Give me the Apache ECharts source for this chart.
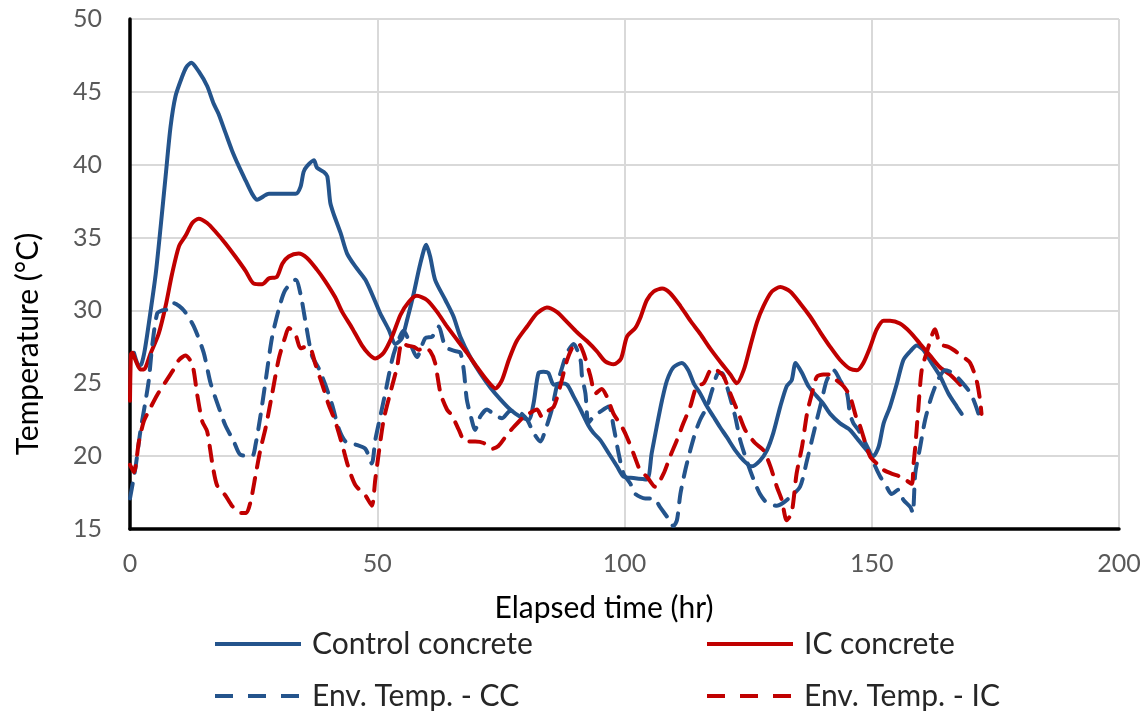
<!DOCTYPE html>
<html>
<head>
<meta charset="utf-8">
<script src="https://cdn.jsdelivr.net/npm/echarts@6/dist/echarts.min.js"></script>
<style>
  html, body { margin: 0; padding: 0; background: #fff; }
  #chart { width: 1148px; height: 712px; }
</style>
</head>
<body>
<div id="chart"></div>
<script>
// Elapsed time (hr) and temperature (°C) for each sensor
const ccTime = [0.8, 1.8, 2.3, 3.0, 4.1, 5.2, 6.2, 7.2, 8.2, 9.2, 10.5, 11.4, 12.4, 13.9, 15.6, 16.9, 17.9, 19.3,
  20.6, 22.0, 23.4, 24.7, 25.7, 28.1, 33.5, 34.5, 35.1, 35.8, 37.2, 37.8, 39.2, 39.9, 40.5, 41.2, 42.6, 43.9, 45.6, 47.6,
  49.6, 50.6, 52.3, 53.7, 55.0, 56.0, 57.4, 58.7, 59.9, 60.7, 61.7, 63.8, 65.4, 66.8, 68.8, 70.8, 72.9, 74.9, 76.9, 78.9,
  80.6, 81.6, 82.6, 83.6, 84.6, 85.7, 87.0, 88.4, 89.7, 91.1, 92.7, 93.7, 95.1, 96.8, 98.5, 99.8, 101.8, 104.5, 105.5, 106.5,
  107.6, 108.6, 109.9, 111.6, 112.9, 114.0, 115.3, 116.7, 118.0, 119.3, 120.7, 122.4, 124.1, 125.7, 127.4, 128.8, 130.1, 131.5, 132.8, 133.8,
  134.6, 135.9, 137.2, 138.9, 140.2, 141.6, 143.6, 145.6, 147.3, 149.0, 150.3, 151.4, 152.4, 153.7, 155.1, 156.4, 157.8, 159.1, 160.4, 162.1,
  163.8, 165.5, 167.2, 168.2];
const ccTemp = [27.1, 26.2, 26.3, 27.3, 29.8, 32.5, 35.75, 39.2, 42.6, 44.7, 46.0, 46.7, 47.0, 46.4, 45.4, 44.2, 43.5, 42.2,
  41.0, 39.9, 38.9, 38.0, 37.6, 38.0, 38.0, 38.5, 39.5, 39.9, 40.3, 39.8, 39.5, 39.2, 37.4, 36.6, 35.3, 33.9, 33.0, 32.1,
  30.6, 29.8, 28.7, 27.7, 28.1, 29.3, 31.2, 33.2, 34.5, 33.7, 32.1, 30.7, 29.6, 28.2, 26.8, 25.7, 24.7, 23.9, 23.2, 22.7,
  22.5, 23.6, 25.7, 25.8, 25.7, 24.9, 25.0, 24.9, 24.1, 23.2, 22.1, 21.6, 21.1, 20.2, 19.3, 18.6, 18.5, 18.4, 20.2, 22.0,
  23.85, 25.2, 26.1, 26.4, 25.9, 25.0, 24.3, 23.4, 22.7, 22.0, 21.3, 20.4, 19.7, 19.3, 19.7, 20.4, 21.6, 23.4, 24.8, 25.2,
  26.4, 25.7, 24.8, 24.1, 23.6, 22.9, 22.25, 21.8, 21.1, 20.4, 20.0, 20.65, 22.25, 23.4, 25.0, 26.6, 27.2, 27.6, 27.3, 26.4,
  25.5, 24.3, 23.4, 22.9];

const icTime = [0, 0.2, 0.5, 1.1, 2.1, 2.8, 4.1, 5.8, 7.2, 8.5, 9.9, 11.2, 12.6, 13.9, 15.6, 17.3, 19.3, 21.3, 23.4, 25.0,
  26.7, 28.1, 29.7, 30.8, 32.1, 34.1, 35.8, 37.8, 39.5, 41.5, 42.9, 44.9, 46.9, 48.3, 49.6, 51.3, 53.0, 54.7, 56.4, 58.0,
  60.1, 62.1, 64.1, 66.1, 68.1, 70.2, 72.2, 73.9, 75.2, 76.6, 78.2, 80.3, 82.3, 84.3, 86.3, 88.4, 90.4, 92.4, 94.4, 96.1,
  97.8, 99.3, 100.5, 102.2, 103.2, 104.5, 105.9, 107.6, 109.2, 111.3, 113.3, 115.3, 117.3, 119.3, 121.4, 122.7, 124.1, 125.4, 126.8, 128.1,
  129.8, 131.5, 133.5, 135.5, 137.5, 139.6, 141.6, 143.6, 145.6, 147.0, 148.3, 149.7, 151.0, 152.4, 153.7, 155.7, 157.8, 159.8, 161.8, 163.8,
  165.8, 167.9];
const icTemp = [23.8, 27.0, 27.1, 26.6, 25.95, 25.95, 27.0, 28.4, 30.3, 32.5, 34.4, 35.1, 36.0, 36.3, 36.0, 35.4, 34.6, 33.7, 32.7, 31.85,
  31.8, 32.2, 32.3, 33.2, 33.7, 33.9, 33.6, 32.8, 32.0, 30.9, 29.9, 28.8, 27.6, 27.0, 26.7, 27.1, 28.2, 29.7, 30.6, 31.0,
  30.7, 29.9, 28.9, 28.0, 27.1, 26.1, 25.2, 24.65, 25.2, 26.6, 27.9, 28.9, 29.8, 30.2, 29.9, 29.2, 28.5, 27.9, 27.2, 26.5,
  26.3, 26.7, 28.2, 28.8, 29.5, 30.7, 31.3, 31.5, 31.2, 30.3, 29.3, 28.4, 27.4, 26.5, 25.6, 25.0, 25.9, 27.5, 29.2, 30.3,
  31.3, 31.6, 31.3, 30.5, 29.6, 28.5, 27.5, 26.6, 26.0, 25.9, 26.4, 27.5, 28.7, 29.3, 29.3, 29.1, 28.5, 27.7, 26.9, 26.1,
  25.6, 24.9];

const envCcTime = [0, 1.1, 2.1, 3.1, 3.8, 4.5, 5.5, 6.5, 7.85, 8.9, 10.9, 12.9, 14.9, 16.3, 18.0, 19.3, 21.0, 22.3, 24.7,
  25.4, 26.4, 27.4, 28.7, 30.1, 31.4, 33.5, 34.5, 35.5, 36.8, 38.2, 39.5, 40.9, 42.2, 43.6, 45.6, 47.6, 48.9, 49.6, 50.6,
  51.6, 53.0, 54.0, 55.3, 56.7, 58.0, 59.7, 61.1, 62.4, 63.8, 65.8, 66.8, 67.5, 68.1, 68.8, 69.8, 70.8, 72.2, 73.5, 75.2,
  76.9, 78.6, 80.3, 81.6, 83.0, 84.0, 85.3, 86.3, 87.4, 88.4, 89.7, 91.1, 91.4, 92.1, 92.7, 93.7, 95.1, 96.8, 97.8, 98.8,
  99.8, 101.2, 102.2, 104.2, 105.9, 107.2, 108.9, 109.9, 110.6, 111.3, 112.3, 113.3, 114.3, 115.3, 116.7, 117.7, 119.0, 119.7, 120.7, 121.7,
  122.4, 123.4, 124.7, 126.1, 127.4, 128.8, 130.8, 132.1, 133.5, 135.5, 136.9, 137.9, 138.9, 139.9, 140.9, 142.3, 143.6, 145.0, 145.6, 146.3,
  147.3, 148.7, 149.7, 150.7, 151.7, 153.0, 154.0, 155.4, 156.4, 157.8, 158.3, 158.8, 159.8, 160.8, 162.1, 163.5, 164.8, 166.5, 167.9, 169.6,
  170.6, 171.6, 172.2];
const envCcTemp = [17.1, 19.2, 21.7, 23.7, 25.2, 27.6, 29.8, 30.0, 30.1, 30.5, 30.0, 28.9, 27.1, 25.0, 23.3, 22.1, 21.0, 20.1, 20.0,
  20.8, 22.8, 25.1, 28.1, 30.1, 31.4, 32.1, 31.1, 29.2, 26.9, 26.0, 24.9, 23.5, 21.9, 21.0, 20.8, 20.5, 19.5, 21.1, 22.7,
  24.3, 26.6, 27.7, 28.6, 27.7, 26.8, 28.1, 28.2, 28.9, 27.5, 27.2, 27.1, 25.9, 23.9, 22.9, 21.8, 22.7, 23.2, 22.9, 22.6,
  23.1, 23.05, 22.5, 21.6, 21.0, 21.8, 23.2, 24.8, 26.1, 27.1, 27.7, 26.6, 25.5, 24.3, 22.3, 22.7, 23.05, 23.4, 22.0, 20.2,
  18.8, 18.1, 17.4, 17.1, 17.1, 16.5, 15.7, 15.2, 15.6, 17.4, 19.05, 20.4, 21.6, 22.5, 23.4, 24.5, 25.7, 25.7, 24.8, 23.6,
  22.7, 21.1, 19.7, 18.4, 17.4, 16.8, 16.6, 16.8, 17.2, 17.9, 19.7, 21.1, 22.5, 23.85, 25.2, 25.9, 25.2, 24.3, 22.9, 22.25,
  21.8, 20.9, 20.2, 19.3, 18.6, 17.9, 17.4, 17.7, 17.0, 16.5, 16.1, 18.8, 20.65, 22.5, 24.1, 25.3, 25.9, 25.7, 25.2, 24.5,
  23.85, 22.9, 22.25];

const envIcTime = [0, 0.8, 1.8, 2.8, 3.8, 5.5, 7.2, 8.9, 9.9, 11.2, 12.6, 13.6, 14.6, 15.6, 16.6, 17.6, 19.3, 20.6, 22.3, 23.5,
  24.4, 25.4, 26.4, 27.4, 28.7, 30.1, 31.4, 32.1, 33.5, 34.5, 35.5, 36.5, 37.5, 38.9, 40.2, 41.5, 42.9, 44.2, 45.6, 47.6,
  48.9, 49.6, 50.3, 51.3, 52.6, 54.0, 55.0, 56.0, 57.4, 58.4, 59.5, 60.7, 61.7, 62.8, 64.1, 65.1, 66.5, 67.8, 69.8, 71.5,
  73.2, 74.5, 76.2, 77.6, 79.3, 80.6, 82.3, 83.3, 84.3, 85.7, 87.0, 88.4, 89.7, 90.7, 91.7, 93.1, 94.1, 95.4, 96.4, 97.8,
  99.5, 100.5, 101.8, 103.2, 104.5, 106.2, 107.9, 109.2, 110.6, 111.9, 113.3, 114.6, 116.0, 117.7, 118.7, 120.0, 121.4, 123.1, 124.4, 126.4,
  128.1, 129.5, 130.8, 131.8, 132.8, 133.8, 134.8, 135.9, 136.9, 137.9, 138.9, 140.2, 141.6, 142.9, 144.3, 145.6, 147.0, 147.6, 148.7, 149.7,
  151.0, 152.4, 154.0, 155.7, 156.7, 158.1, 158.4, 158.8, 159.4, 160.1, 161.1, 162.8, 163.8, 165.5, 166.5, 168.5, 169.9, 171.2, 171.9, 172.2];
const envIcTemp = [19.4, 18.9, 21.0, 22.4, 23.1, 24.2, 25.1, 26.0, 26.6, 26.9, 26.3, 24.2, 22.4, 21.7, 19.6, 18.0, 17.3, 16.6, 16.1, 16.1,
  16.9, 18.7, 20.5, 21.9, 24.2, 26.7, 28.2, 28.8, 28.3, 27.4, 27.5, 27.4, 26.3, 24.9, 23.5, 22.4, 20.8, 19.2, 18.0, 17.3,
  16.6, 18.4, 20.2, 22.5, 24.3, 26.1, 27.8, 27.6, 27.5, 27.3, 27.5, 27.2, 26.4, 24.3, 23.2, 22.8, 21.8, 21.0, 21.0, 20.9,
  20.5, 20.7, 21.45, 22.0, 22.6, 22.9, 23.2, 22.7, 23.05, 23.4, 24.8, 26.6, 27.6, 27.7, 27.1, 25.5, 24.3, 24.6, 24.1, 22.9,
  22.0, 21.3, 20.2, 19.0, 18.6, 17.9, 18.8, 19.96, 21.1, 22.25, 23.4, 24.8, 25.0, 26.0, 25.9, 25.5, 24.3, 22.9, 21.8, 20.9,
  20.4, 19.3, 17.9, 17.0, 15.6, 16.1, 18.8, 20.65, 22.9, 24.3, 25.45, 25.6, 25.6, 25.2, 24.8, 24.1, 22.5, 22.1, 20.9, 19.96,
  19.5, 19.05, 18.8, 18.6, 18.4, 18.1, 19.3, 20.65, 23.2, 25.9, 27.1, 28.7, 27.7, 27.5, 27.3, 26.8, 26.4, 25.2, 23.85, 22.9];

const xTicks = { min: 0, max: 200, step: 50 };
const yTicks = { min: 15, max: 50, step: 5 };

const BLUE = '#24548c';
const RED = '#c00000';
const FONT = 'Lato';
const DASH = [15, 11];
const LEGEND_DASH = [18, 15];

const pairs = (xs, ys) => xs.map((x, i) => [x, ys[i]]);

function lineSeries(name, xs, ys, color, dashed) {
  return {
    name: name,
    type: 'line',
    data: pairs(xs, ys),
    showSymbol: false,
    symbol: 'none',
    smooth: 0.25,
    lineStyle: { color: color, width: 4, type: dashed ? DASH : 'solid', cap: 'round', join: 'round' },
    itemStyle: { color: color }
  };
}

function legendAt(name, left, top, color, dashed) {
  return {
    data: [name],
    left: left,
    top: top,
    padding: 0,
    itemWidth: 86,
    itemHeight: 14,
    selectedMode: false,
    itemStyle: { opacity: 0 },
    lineStyle: { color: color, width: 4, type: dashed ? LEGEND_DASH : 'solid', cap: 'butt' },
    textStyle: { fontFamily: FONT, fontSize: 30, color: '#262626', lineHeight: 34, padding: [0, 0, 0, 6] }
  };
}

const chart = echarts.init(document.getElementById('chart'), null, { renderer: 'canvas' });
chart.setOption({
  animation: false,
  backgroundColor: '#ffffff',
  grid: { left: 130, right: 29, top: 19, height: 510, containLabel: false },
  xAxis: {
    type: 'value',
    min: xTicks.min, max: xTicks.max, interval: xTicks.step,
    axisLine: { show: true, onZero: false, lineStyle: { color: '#000', width: 3.5 } },
    axisTick: { show: false },
    splitLine: { show: true, lineStyle: { color: '#d9d9d9', width: 2 } },
    axisLabel: { fontFamily: FONT, fontSize: 25, color: '#595959', margin: 22 }
  },
  yAxis: {
    type: 'value',
    min: yTicks.min, max: yTicks.max, interval: yTicks.step,
    axisLine: { show: true, onZero: false, lineStyle: { color: '#000', width: 3.5 } },
    axisTick: { show: false },
    splitLine: { show: true, lineStyle: { color: '#d9d9d9', width: 2 } },
    axisLabel: { fontFamily: FONT, fontSize: 25, color: '#595959', margin: 28 }
  },
  legend: [
    legendAt('Control concrete', 213, 627, BLUE, false),
    legendAt('IC concrete', 705, 627, RED, false),
    legendAt('Env. Temp. - CC', 213, 679, BLUE, true),
    legendAt('Env. Temp. - IC', 705, 679, RED, true)
  ],
  graphic: [
    {
      type: 'text',
      x: 604, y: 608,
      style: { text: 'Elapsed time (hr)', align: 'center', verticalAlign: 'middle', fontFamily: FONT, fontSize: 30, fill: '#000' }
    },
    {
      type: 'text',
      x: 28, y: 344,
      rotation: Math.PI / 2,
      style: { text: 'Temperature (°C)', align: 'center', verticalAlign: 'middle', fontFamily: FONT, fontSize: 30, fill: '#000' }
    }
  ],
  series: [
    lineSeries('Control concrete', ccTime, ccTemp, BLUE, false),
    lineSeries('IC concrete', icTime, icTemp, RED, false),
    lineSeries('Env. Temp. - CC', envCcTime, envCcTemp, BLUE, true),
    lineSeries('Env. Temp. - IC', envIcTime, envIcTemp, RED, true)
  ]
});
</script>
</body>
</html>
